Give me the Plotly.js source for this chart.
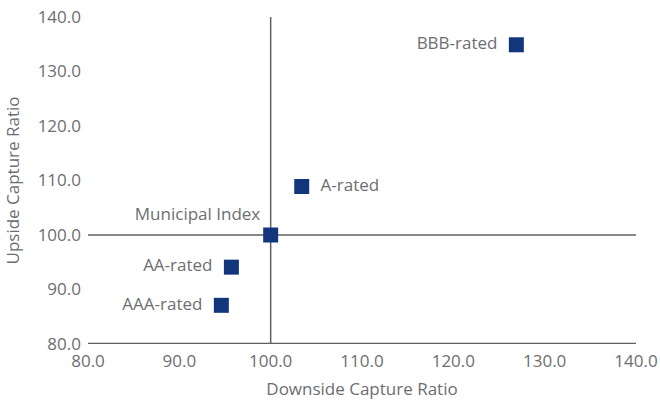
<!DOCTYPE html>
<html>
<head>
<meta charset="utf-8">
<script src="https://cdn.plot.ly/plotly-3.0.1.min.js"></script>
<style>html,body{margin:0;padding:0;background:#fff;}#chart{width:660px;height:400px;}</style>
</head>
<body>
<div id="chart"></div>
<script>
const labels = ["BBB-rated", "A-rated", "Municipal Index", "AA-rated", "AAA-rated"];
const downside = [126.9, 103.4, 100.0, 95.7, 94.6];
const upside = [134.9, 108.9, 100.0, 94.1, 87.1];
const labelPositions = ["middle left", "middle right", "top left", "middle left", "middle left"];
const tickVals = [80, 90, 100, 110, 120, 130, 140];
const tickText = ["80.0", "90.0", "100.0", "110.0", "120.0", "130.0", "140.0"];

const gray = "#6d6e71";
const fam = "'Open Sans', sans-serif";
const font = {family: fam, size: 17, color: gray};

const trace = {
  type: "scatter",
  mode: "markers+text",
  x: downside,
  y: upside,
  text: labels.map((t, i) => labelPositions[i] === "top left" ? t : "\u2002" + t + "\u2002"),
  textposition: labelPositions,
  textfont: font,
  marker: {symbol: "square", size: 15, color: "#12367c"},
  hoverinfo: "none",
  cliponaxis: false
};

const layout = {
  width: 660, height: 400,
  margin: {l: 88, r: 24, t: 17, b: 56},
  paper_bgcolor: "#fff", plot_bgcolor: "#fff",
  showlegend: false,
  font: font,
  xaxis: {
    range: [80, 140], tickvals: tickVals, ticktext: tickText,
    showgrid: false, zeroline: false, showline: false, ticks: "",
    ticklabelstandoff: 5,
    tickfont: {family: fam, size: 17, color: gray},
    title: {text: "Downside Capture Ratio", font: {family: fam, size: 17, color: gray}, standoff: 12}
  },
  yaxis: {
    range: [80, 140], tickvals: tickVals, ticktext: tickText,
    showgrid: false, zeroline: false, showline: false, ticks: "",
    ticklabelstandoff: 6,
    tickfont: {family: fam, size: 17, color: gray},
    title: {text: "Upside Capture Ratio", font: {family: fam, size: 17, color: gray}, standoff: 13}
  },
  shapes: [
    {type: "line", xref: "x", yref: "y", x0: 80, x1: 140, y0: 80, y1: 80, line: {color: "#5f6062", width: 2.5}, layer: "below"},
    {type: "line", xref: "x", yref: "y", x0: 80, x1: 140, y0: 100, y1: 100, line: {color: "#5f6062", width: 1.5}, layer: "below"},
    {type: "line", xref: "x", yref: "y", x0: 100, x1: 100, y0: 80, y1: 140, line: {color: "#5f6062", width: 1.5}, layer: "below"}
  ]
};

Plotly.newPlot("chart", [trace], layout, {displayModeBar: false, staticPlot: true});
</script>
</body>
</html>
